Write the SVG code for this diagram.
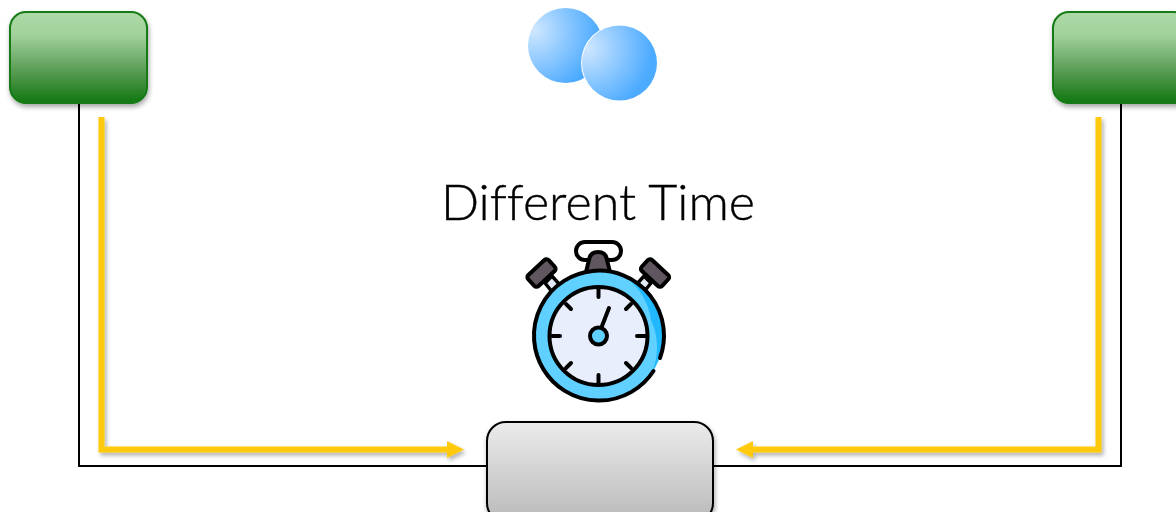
<svg xmlns="http://www.w3.org/2000/svg" width="1176" height="512" viewBox="0 0 1176 512">
<style>
.wire{fill:none;stroke:#000;stroke-width:2}
.flow{fill:none;stroke:#ffc90a;stroke-width:6;stroke-linejoin:miter}
.head{fill:#ffc90a}
.green{fill:url(#gGreen);stroke:#137a13;stroke-width:2}
.k{stroke:#000;stroke-width:4;stroke-linecap:round;fill:none}
.o{stroke:#000;stroke-width:4}
.label{font-family:"Lato","Liberation Sans",sans-serif;font-weight:300;font-size:50px;fill:#000;font-variant-ligatures:none;stroke:#000;stroke-width:0.4}
</style>
<defs>
<linearGradient id="gGreen" x1="0" y1="0" x2="0" y2="1"><stop offset="0" stop-color="#aedaa8"/><stop offset="0.25" stop-color="#a2d19c"/><stop offset="0.7" stop-color="#4f964b"/><stop offset="1" stop-color="#0f770f"/></linearGradient>
<linearGradient id="gGrey" x1="0" y1="0" x2="0" y2="1"><stop offset="0" stop-color="#ebebeb"/><stop offset="1" stop-color="#b9b9b9"/></linearGradient>
<radialGradient id="gBall" cx="0.08" cy="0.3" r="0.95"><stop offset="0" stop-color="#cfe7ff"/><stop offset="0.9" stop-color="#4dabff"/><stop offset="1" stop-color="#4dabff"/></radialGradient>
<filter id="sh" x="-20%" y="-20%" width="140%" height="140%"><feDropShadow dx="1" dy="3" stdDeviation="2.5" flood-color="#000" flood-opacity="0.35"/></filter>
<filter id="shL" x="-5%" y="-5%" width="110%" height="110%"><feDropShadow dx="2" dy="3" stdDeviation="2" flood-color="#000" flood-opacity="0.3"/></filter>
<filter id="soft" x="-5%" y="-5%" width="110%" height="110%"><feGaussianBlur stdDeviation="0.5"/></filter>
</defs>
<g id="connectors">
<path class="wire" d="M79 102V466H487"/>
<path class="wire" d="M1121 102V466H714"/>
<g filter="url(#shL)">
<path class="flow" d="M101.500 117V449.500H448"/>
<path class="head" d="M447 441L464 449.500L447 458Z"/>
<path class="flow" d="M1098.500 117V449.500H752"/>
<path class="head" d="M753 441L736 449.500L753 458Z"/>
</g>
</g>
<g id="node-left"><rect class="green" x="10" y="12" width="137" height="91" rx="16" filter="url(#sh)"/></g>
<g id="node-right"><rect class="green" x="1053" y="12" width="137" height="91" rx="16" filter="url(#sh)"/></g>
<g id="node-bottom"><rect x="487" y="422" width="226" height="100" rx="19" fill="url(#gGrey)" stroke="#000" stroke-width="2" filter="url(#sh)"/></g>
<g id="balls">
<circle cx="565.500" cy="45.500" r="37.500" fill="url(#gBall)"/>
<circle cx="619.500" cy="63" r="38.500" fill="#fff"/>
<circle cx="619.500" cy="63" r="37.500" fill="url(#gBall)"/>
</g>
<text class="label" x="441" y="220" textLength="314" lengthAdjust="spacingAndGlyphs">Different Time</text>
<g id="stopwatch" filter="url(#soft)">
<rect x="576" y="242" width="45" height="18" rx="9" fill="#fff" class="o"/>
<path d="M586 272L589 260Q590 252 598 252Q606 252 607 260L610 272Z" fill="#5f565f" class="o"/>
<path d="M545 283L553 293L561 286L552 276Z" fill="#e3ebf8" stroke="#000" stroke-width="3.500"/>
<path d="M651 283L643 293L635 286L644 276Z" fill="#e3ebf8" stroke="#000" stroke-width="3.500"/>
<rect x="-14" y="-7.500" width="28" height="15" rx="3" transform="translate(541.500 273) rotate(-43)" fill="#5f565f" class="o"/>
<rect x="-14" y="-7.500" width="28" height="15" rx="3" transform="translate(655 273) rotate(43)" fill="#5f565f" class="o"/>
<circle cx="598.500" cy="336" r="65" fill="#5ed0ff"/>
<path d="M622 275A65 65 0 0 1 652 372A64 64 0 0 0 651 320A62 62 0 0 0 622 275Z" fill="#22b8ff"/>
<path d="M653.500 371A65 65 0 1 1 660 358" class="k"/>
<circle cx="598.500" cy="336" r="49" fill="#e8eefb" class="o"/>
<path class="k" d="M598.500 289V297M598.500 375V383M552 336H560M637 336H645M566 304L571 309M631 304L626 309M566 368L571 363M631 368L626 363"/>
<path class="k" d="M602 326L609 308"/>
<circle cx="598.500" cy="336" r="8.500" fill="#5ed0ff" class="o"/>
</g>
</svg>
